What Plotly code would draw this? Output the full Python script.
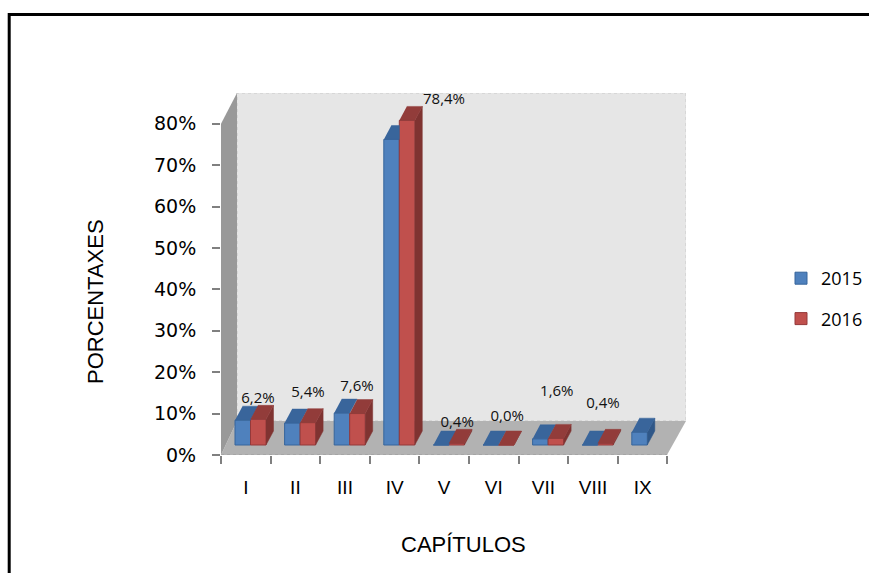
import plotly.graph_objects as go

categories = ["I", "II", "III", "IV", "V", "VI", "VII", "VIII", "IX"]
series_2015 = [6.0, 5.3, 7.7, 73.8, 0.0, 0.0, 1.5, 0.0, 3.1]
series_2016 = [6.2, 5.4, 7.6, 78.4, 0.4, 0.0, 1.6, 0.4, None]
labels_2016 = ["6,2%", "5,4%", "7,6%", "78,4%", "0,4%", "0,0%", "1,6%", "0,4%", ""]
label_lift = [4.9, 7.2, 6.4, 4.9, 4.9, 6.8, 11.2, 9.5, 0]
label_shift = [0.746, 0.754, 0.74, 1.496, 0.76, 0.77, 0.77, 0.70, 0]
y_ticks = [0, 10, 20, 30, 40, 50, 60, 70, 80]

W, H = 869, 573
L, R, T, B = 221, 686, 93, 455
CAT_PX = 49.6
PCT_PX = 4.14
xmax = (R - L) / CAT_PX
ymax = (B - T) / PCT_PX
depth_x, depth_y = 16 / CAT_PX, 34 / PCT_PX
base = 10 / PCT_PX
bar_w = 15.5 / CAT_PX
bar_dx, bar_dy = 7.5 / CAT_PX, 14 / PCT_PX
left_2015 = 14 / CAT_PX
left_2016 = left_2015 + bar_w

BLUE, BLUE_TOP, BLUE_SIDE, BLUE_EDGE = "#4f81bd", "#39659b", "#2f5788", "#36659c"
RED, RED_TOP, RED_SIDE, RED_EDGE = "#c0504d", "#923c3a", "#7f3331", "#94393a"

fig = go.Figure()


def poly(xs, ys, color):
    fig.add_trace(go.Scatter(x=xs, y=ys, mode="lines", fill="toself", fillcolor=color,
                             line=dict(color=color, width=0.5), hoverinfo="skip", showlegend=False))


def xs_of(left):
    return [i + left + bar_w / 2 for i in range(len(categories))]


fig.add_trace(go.Bar(x=xs_of(left_2015), y=series_2015, base=base, width=bar_w, name="2015", legendgroup="a",
                     marker=dict(color=BLUE, line=dict(color=BLUE_EDGE, width=1))))
fig.add_trace(go.Bar(x=xs_of(left_2016), y=series_2016, base=base, width=bar_w, name="2016", legendgroup="b",
                     marker=dict(color=RED, line=dict(color=RED_EDGE, width=1))))

for i, (v15, v16) in enumerate(zip(series_2015, series_2016)):
    x0 = i + left_2015
    x1 = x0 + bar_w
    top = base + v15
    if v16 is None:
        poly([x1, x1 + bar_dx, x1 + bar_dx, x1], [base, base + bar_dy, top + bar_dy, top], BLUE_SIDE)
    if v16 is not None and base + v16 >= top + bar_dy:
        poly([x0, x1, x1, x0 + bar_dx], [top, top, top + bar_dy, top + bar_dy], BLUE_TOP)
    else:
        poly([x0, x1, x1 + bar_dx, x0 + bar_dx], [top, top, top + bar_dy, top + bar_dy], BLUE_TOP)
    if v16 is not None:
        x2 = x1 + bar_w
        top = base + v16
        poly([x2, x2 + bar_dx, x2 + bar_dx, x2], [base, base + bar_dy, top + bar_dy, top], RED_SIDE)
        poly([x1, x2, x2 + bar_dx, x1 + bar_dx], [top, top, top + bar_dy, top + bar_dy], RED_TOP)

label_values = [v if v is not None else 0 for v in series_2016]
fig.add_trace(go.Scatter(
    x=[i + s for i, s in enumerate(label_shift)],
    y=[base + v + d for v, d in zip(label_values, label_lift)],
    mode="text", text=labels_2016, textposition="middle center", cliponaxis=False,
    textfont=dict(family="Open Sans", size=15, color="#111111"),
    hoverinfo="skip", showlegend=False))

px_x = lambda p: (p - L) / (R - L)
px_y = lambda p: (B - p) / (B - T)

shapes = [
    dict(type="rect", xref="x", yref="y", x0=depth_x, x1=xmax, y0=depth_y, y1=ymax, layer="below",
         fillcolor="#e6e6e6", line=dict(color="#c8c8c8", width=1, dash="dot")),
    dict(type="path", xref="x", yref="y", layer="below", fillcolor="#b2b2b2", line=dict(width=0),
         path=f"M0,0 L{depth_x},{depth_y} L{xmax},{depth_y} L{xmax - depth_x * 1.19},0 Z"),
    dict(type="path", xref="x", yref="y", layer="below", fillcolor="#999999", line=dict(width=0),
         path=f"M0,0 L{depth_x},{depth_y} L{depth_x},{ymax} L0,80 Z"),
    dict(type="line", xref="x", yref="y", layer="below", x0=0, x1=len(categories), y0=-0.2, y1=-0.2,
         line=dict(color="#808080", width=2, dash="dot")),
    # figure frame: left and top edges only, the bottom and right run off the page
    dict(type="path", xref="paper", yref="paper", layer="above", fillcolor="rgba(0,0,0,0)",
         line=dict(color="#000000", width=3),
         path=f"M{px_x(9.2)},{px_y(600)} L{px_x(9.2)},{px_y(14.5)} L{px_x(900)},{px_y(14.5)}"),
]

annotations = [
    dict(text="CAPÍTULOS", xref="paper", yref="paper", x=px_x(463), y=px_y(544), showarrow=False,
         xanchor="center", yanchor="middle", font=dict(size=22)),
    dict(text="PORCENTAXES", xref="paper", yref="paper", x=px_x(95), y=px_y(301), showarrow=False,
         textangle=-90, xanchor="center", yanchor="middle", font=dict(size=22)),
]

fig.update_layout(
    width=W, height=H, autosize=False, paper_bgcolor="white", plot_bgcolor="rgba(0,0,0,0)",
    margin=dict(l=L, r=W - R, t=T, b=H - B, pad=0, autoexpand=False), shapes=shapes,
    annotations=annotations, barmode="overlay",
    font=dict(family="Liberation Sans", color="#000000"),
    legend=dict(x=px_x(781), y=px_y(260), xanchor="left", yanchor="top",
                font=dict(family="Open Sans", size=18), tracegroupgap=14, bgcolor="rgba(0,0,0,0)",
                traceorder="grouped"),
    xaxis=dict(range=[0, xmax], tickmode="array", tickvals=[i + 0.5 for i in range(len(categories))],
               ticktext=categories, ticks="outside", ticklen=15, tickcolor="rgba(0,0,0,0)",
               tickfont=dict(size=19), showgrid=False, zeroline=False, showline=False,
               minor=dict(ticks="outside", tickmode="array", tickvals=list(range(10)), ticklen=8,
                          tickcolor="#808080", tickwidth=2, showgrid=False)),
    yaxis=dict(range=[0, ymax], tickmode="array", tickvals=y_ticks, ticktext=[f"{v}%" for v in y_ticks],
               ticks="outside", ticklen=8, tickcolor="#808080", tickwidth=2,
               tickfont=dict(family="DejaVu Sans", size=19), ticklabelstandoff=12,
               showgrid=False, zeroline=False, showline=False),
)

fig.write_html("out.html", config={"displayModeBar": False},
               post_script="document.body.style.margin='0';document.documentElement.style.overflow='hidden';")
